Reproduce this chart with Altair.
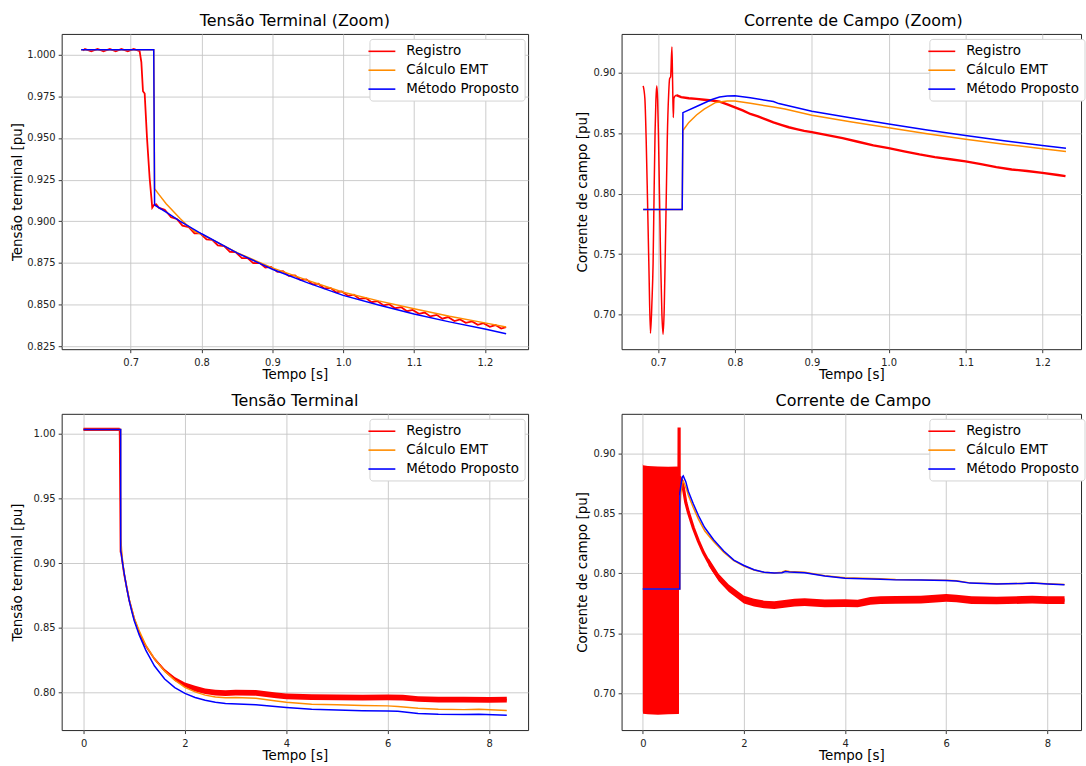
import altair as alt
import pandas as pd

FONT = "DejaVu Sans"
SERIES = ["Registro", "Cálculo EMT", "Método Proposto"]
COLORS = ["#ff0000", "#ff8c00", "#0000ff"]

# ---------------- Top-left: Tensão Terminal (Zoom) ----------------
tl_reg_t = [0.6326, 0.6354, 0.6443, 0.6532, 0.6616, 0.6705, 0.6789, 0.6869, 0.6958, 0.7042,
            0.7126, 0.715, 0.7173, 0.7197, 0.723, 0.7267, 0.7304, 0.7328, 0.736,
            0.740, 0.748, 0.757, 0.765, 0.773, 0.782, 0.790, 0.798, 0.807, 0.815,
            0.823, 0.832, 0.840, 0.848, 0.857, 0.865, 0.873, 0.882, 0.890, 0.898,
            0.907, 0.915, 0.923, 0.932, 0.940, 0.948, 0.957, 0.965, 0.973, 0.982,
            0.990, 0.998, 1.007, 1.015, 1.023, 1.032, 1.040, 1.048, 1.057, 1.065,
            1.073, 1.082, 1.090, 1.098, 1.107, 1.115, 1.123, 1.132, 1.140, 1.148,
            1.157, 1.165, 1.173, 1.182, 1.190, 1.198, 1.207, 1.215, 1.223, 1.230]
tl_reg_v = [1.0025, 1.0035, 1.0021, 1.0035, 1.0021, 1.0035, 1.0021, 1.0035, 1.0021, 1.0035,
            1.0021, 0.9956, 0.9781, 0.9767, 0.950, 0.926, 0.9082, 0.9098, 0.9102,
            0.9080, 0.9069, 0.9024, 0.9014, 0.8974, 0.8965, 0.8927, 0.8927, 0.8891, 0.8889,
            0.8855, 0.8851, 0.8817, 0.8815, 0.8779, 0.8779, 0.8749, 0.8750, 0.8722, 0.8726,
            0.8696, 0.8700, 0.8672, 0.8675, 0.8647, 0.8651, 0.8621, 0.8625, 0.8597, 0.8600,
            0.8573, 0.8579, 0.8552, 0.8559, 0.8534, 0.8539, 0.8514, 0.8521, 0.8495, 0.8502,
            0.8478, 0.8484, 0.8460, 0.8468, 0.8444, 0.8452, 0.8429, 0.8438, 0.8415, 0.8425,
            0.8401, 0.8411, 0.8390, 0.8399, 0.8378, 0.8388, 0.8366, 0.8377, 0.8356, 0.8365]
tl_emt_t = [0.63, 0.7325, 0.7337, 0.74, 0.75, 0.76, 0.77, 0.78, 0.79, 0.80, 0.85, 0.90,
            0.95, 1.00, 1.05, 1.10, 1.15, 1.20, 1.23]
tl_emt_v = [1.003, 1.003, 0.9195, 0.916, 0.9105, 0.906, 0.9015, 0.8975, 0.894, 0.8922,
            0.8812, 0.872, 0.8645, 0.8574, 0.8522, 0.8475, 0.843, 0.839, 0.8365]
tl_prop_t = [0.63, 0.7325, 0.7337, 0.75, 0.77, 0.80, 0.85, 0.90, 0.95, 1.00, 1.05, 1.10,
             1.15, 1.20, 1.23]
tl_prop_v = [1.003, 1.003, 0.9098, 0.9055, 0.900, 0.8925, 0.881, 0.8712, 0.863, 0.8555,
             0.8497, 0.8443, 0.8396, 0.8353, 0.8325]

# ---------------- Top-right: Corrente de Campo (Zoom) ----------------
tr_osc_t = [0.6806, 0.6828, 0.6845, 0.6862, 0.6882, 0.6901, 0.692, 0.6935, 0.6948, 0.6961,
            0.6972, 0.6983, 0.6994, 0.7004, 0.7018, 0.7034, 0.705, 0.7065, 0.708, 0.7095,
            0.711, 0.712, 0.7138, 0.715, 0.7163, 0.718, 0.7189, 0.7198, 0.7206, 0.7215, 0.7237]
tr_osc_v = [0.8893, 0.8789, 0.845, 0.7967, 0.735, 0.6844, 0.710, 0.7419, 0.800, 0.8515,
            0.878, 0.8893, 0.878, 0.8515, 0.800, 0.7419, 0.700, 0.6836, 0.705, 0.7556,
            0.810, 0.846, 0.883, 0.8953, 0.8967, 0.9214, 0.8926, 0.863, 0.879, 0.8803, 0.8816]
tr_reg_t = [0.7237, 0.73, 0.74, 0.75, 0.76, 0.77, 0.78, 0.79, 0.80, 0.81, 0.82, 0.83, 0.84,
            0.85, 0.86, 0.87, 0.88, 0.89, 0.90, 0.92, 0.94, 0.96, 0.98, 1.00, 1.02, 1.04,
            1.06, 1.08, 1.10, 1.12, 1.14, 1.16, 1.18, 1.20, 1.22, 1.23]
tr_reg_v = [0.8816, 0.8800, 0.8790, 0.8785, 0.8778, 0.8772, 0.8762, 0.8740, 0.8715, 0.8690,
            0.8660, 0.8640, 0.8615, 0.8590, 0.8570, 0.8550, 0.8535, 0.8520, 0.8510, 0.8485,
            0.8460, 0.8430, 0.8400, 0.8377, 0.8350, 0.8325, 0.8303, 0.8285, 0.8268, 0.8245,
            0.8220, 0.8200, 0.8188, 0.8172, 0.8155, 0.8145]
tr_emt_t = [0.6806, 0.7314, 0.7323, 0.74, 0.75, 0.76, 0.775, 0.79, 0.80, 0.82, 0.85, 0.865,
            0.90, 0.95, 1.00, 1.05, 1.10, 1.15, 1.20, 1.2306]
tr_emt_v = [0.7868, 0.7868, 0.8523, 0.859, 0.8652, 0.870, 0.8756, 0.8768, 0.8767, 0.8748,
            0.8718, 0.8701, 0.865, 0.8595, 0.8546, 0.8496, 0.8451, 0.841, 0.8372, 0.835]
tr_prop_t = [0.6806, 0.7314, 0.7323, 0.75, 0.77, 0.78, 0.79, 0.80, 0.82, 0.85, 0.857, 0.90,
             0.95, 1.00, 1.05, 1.10, 1.15, 1.20, 1.2306]
tr_prop_v = [0.7868, 0.7868, 0.8671, 0.8722, 0.878, 0.8801, 0.8808, 0.8811, 0.8795, 0.8763,
             0.8746, 0.8683, 0.8628, 0.8577, 0.8527, 0.8481, 0.8438, 0.8399, 0.8377]

# ---------------- Bottom-left: Tensão Terminal ----------------
bl_reg_t = [0.0, 0.712, 0.715, 0.7173, 0.723, 0.7304, 0.736, 0.75, 0.80, 0.90, 1.00, 1.10,
            1.20, 1.23, 1.40, 1.60, 1.80, 2.00, 2.20, 2.40, 2.60, 2.80, 3.00, 3.40, 3.80,
            4.00, 4.50, 5.00, 5.50, 6.00, 6.30, 6.60, 7.00, 7.50, 8.00, 8.35]
bl_reg_v = [1.0033, 1.0033, 0.9956, 0.978, 0.950, 0.9082, 0.910, 0.9055, 0.8915, 0.8715,
            0.8568, 0.8458, 0.8379, 0.836, 0.826, 0.817, 0.8105, 0.806, 0.803, 0.801, 0.800,
            0.7995, 0.800, 0.7998, 0.7978, 0.797, 0.7965, 0.7962, 0.796, 0.7963, 0.796,
            0.795, 0.7945, 0.7945, 0.7943, 0.7945]
bl_band_seg = [0, 0, 1, 1, 1, 1, 1, 1, 1, 1, 1, 1, 1, 1, 1, 1, 1, 1, 1, 1, 1, 1, 1, 1]
bl_band_t = [0.0, 0.712, 1.40, 1.60, 1.80, 2.00, 2.20, 2.40, 2.60, 2.80, 3.00, 3.40,
             3.80, 4.00, 4.50, 5.00, 5.50, 6.00, 6.30, 6.60, 7.00, 7.50, 8.00, 8.35]
bl_band_lo = [1.0021, 1.0021, 0.8252, 0.8158, 0.809, 0.8042, 0.8008, 0.7988, 0.7978, 0.7973,
              0.7978, 0.7976, 0.7956, 0.7948, 0.7943, 0.794, 0.7938, 0.7941, 0.7938, 0.7928,
              0.7923, 0.7923, 0.7921, 0.7923]
bl_band_hi = [1.0045, 1.0045, 0.8268, 0.8182, 0.812, 0.8078, 0.8052, 0.8032, 0.8022, 0.8017,
              0.8022, 0.802, 0.8, 0.7992, 0.7987, 0.7984, 0.7982, 0.7985, 0.7982, 0.7972,
              0.7967, 0.7967, 0.7965, 0.7967]
bl_emt_t = [0.0, 0.7325, 0.7337, 0.75, 0.77, 0.80, 0.85, 0.90, 0.95, 1.00, 1.10, 1.20, 1.23,
            1.40, 1.60, 1.80, 2.00, 2.20, 2.40, 2.60, 2.80, 3.00, 3.40, 3.80, 4.00, 4.50,
            5.00, 5.50, 6.00, 6.20, 6.60, 7.00, 7.50, 7.80, 8.35]
bl_emt_v = [1.0031, 1.0031, 0.9195, 0.9105, 0.9015, 0.8922, 0.8812, 0.872, 0.8645, 0.8574,
            0.8475, 0.839, 0.8365, 0.826, 0.8165, 0.8095, 0.804, 0.8005, 0.798, 0.7965,
            0.796, 0.7962, 0.7955, 0.7935, 0.7925, 0.791, 0.7905, 0.790, 0.7897, 0.7893,
            0.7878, 0.787, 0.7868, 0.787, 0.7862]
bl_prop_t = [0.0, 0.7325, 0.7337, 0.75, 0.77, 0.80, 0.85, 0.90, 0.95, 1.00, 1.10, 1.20, 1.23,
             1.40, 1.60, 1.80, 2.00, 2.20, 2.40, 2.60, 2.80, 3.40, 4.00, 4.50, 5.00, 5.50,
             6.00, 6.20, 6.60, 7.00, 7.50, 7.80, 8.35]
bl_prop_v = [1.0031, 1.0031, 0.9098, 0.9055, 0.900, 0.8925, 0.881, 0.8712, 0.863, 0.8555,
             0.8443, 0.8353, 0.8325, 0.8205, 0.8105, 0.8038, 0.7993, 0.7962, 0.794, 0.7925,
             0.7915, 0.7905, 0.7885, 0.787, 0.7865, 0.786, 0.7858, 0.7855, 0.7838, 0.7832,
             0.783, 0.7832, 0.7824]

# ---------------- Bottom-right: Corrente de Campo ----------------
br_band_seg = [0, 0, 0, 0, 0, 0, 0,
               1, 1, 1, 1, 1, 1, 1, 1, 1, 1, 1, 1, 1, 1, 1, 1, 1, 1, 1, 1, 1, 1, 1, 1, 1]
br_band_t = [0.0, 0.005, 0.10, 0.30, 0.50, 0.70, 0.716,
             1.30, 1.50, 1.70, 2.00, 2.20, 2.40, 2.60, 2.80, 3.00, 3.20, 3.60, 4.00, 4.25,
             4.50, 4.70, 5.00, 5.50, 6.00, 6.20, 6.50, 7.00, 7.50, 7.70, 8.00, 8.34]
br_band_lo = [0.6855, 0.6830, 0.6825, 0.6822, 0.6825, 0.6828, 0.6830,
              0.8063, 0.7933, 0.7843, 0.7748, 0.7723, 0.7708, 0.7703, 0.7713, 0.7723, 0.7728,
              0.7718, 0.7720, 0.7716, 0.7738, 0.7744, 0.7746, 0.7748, 0.7763, 0.7758, 0.7744,
              0.7741, 0.7746, 0.7748, 0.7744, 0.7744]
br_band_hi = [0.8912, 0.8900, 0.8893, 0.8890, 0.8888, 0.8890, 0.8890,
              0.8127, 0.7997, 0.7907, 0.7812, 0.7787, 0.7772, 0.7767, 0.7777, 0.7787, 0.7792,
              0.7782, 0.7784, 0.7780, 0.7802, 0.7808, 0.7810, 0.7812, 0.7827, 0.7822, 0.7808,
              0.7805, 0.7810, 0.7812, 0.7808, 0.7808]
br_reg_t = [0.716, 0.718, 0.7195, 0.7215, 0.73, 0.75, 0.77, 0.80, 0.85, 0.90, 1.00, 1.10,
            1.20, 1.30, 1.40, 1.50, 1.60, 1.70, 1.80, 1.90, 2.00, 2.20, 2.40, 2.60, 2.80,
            3.00, 3.20, 3.60, 4.00, 4.25, 4.50, 4.70, 5.00, 5.50, 6.00, 6.20, 6.50, 7.00,
            7.50, 7.70, 8.00, 8.34]
br_reg_v = [0.889, 0.9215, 0.865, 0.880, 0.880, 0.8785, 0.8772, 0.8715, 0.859, 0.851, 0.8377,
            0.8268, 0.8172, 0.8095, 0.8025, 0.7965, 0.7915, 0.7875, 0.7835, 0.7805, 0.778,
            0.7755, 0.774, 0.7735, 0.7745, 0.7755, 0.776, 0.775, 0.7752, 0.7748, 0.777,
            0.7776, 0.7778, 0.778, 0.7795, 0.779, 0.7776, 0.7773, 0.7778, 0.778, 0.7776, 0.7776]
br_emt_t = [0.0, 0.732, 0.7325, 0.75, 0.775, 0.80, 0.82, 0.865, 0.90, 1.00, 1.10, 1.20, 1.23,
            1.40, 1.60, 1.80, 2.00, 2.20, 2.40, 2.60, 2.75, 2.82, 2.90, 3.20, 3.60, 4.00,
            4.70, 5.00, 5.50, 6.00, 6.20, 6.47, 7.00, 7.50, 7.70, 8.00, 8.34]
br_emt_v = [0.7869, 0.7869, 0.8523, 0.8652, 0.8756, 0.8767, 0.8748, 0.8701, 0.865, 0.8546,
            0.8451, 0.8372, 0.835, 0.8265, 0.8175, 0.8105, 0.806, 0.8028, 0.8008, 0.8003,
            0.8008, 0.802, 0.8015, 0.8008, 0.798, 0.7962, 0.7955, 0.7948, 0.7945, 0.7942,
            0.7937, 0.792, 0.7912, 0.7915, 0.792, 0.7912, 0.7906]
br_prop_t = [0.0, 0.732, 0.7325, 0.75, 0.78, 0.80, 0.85, 0.90, 1.00, 1.10, 1.20, 1.23,
             1.40, 1.60, 1.80, 2.00, 2.20, 2.40, 2.60, 2.75, 2.82, 2.90, 3.20, 3.60, 4.00,
             4.70, 5.00, 5.50, 6.00, 6.20, 6.47, 7.00, 7.50, 7.70, 8.00, 8.34]
br_prop_v = [0.7869, 0.7869, 0.8671, 0.8722, 0.8801, 0.8811, 0.8763, 0.8683, 0.8577, 0.8481,
             0.8399, 0.8377, 0.828, 0.8185, 0.811, 0.8065, 0.803, 0.8008, 0.8002, 0.8005,
             0.8015, 0.801, 0.8005, 0.7978, 0.7959, 0.7951, 0.7945, 0.7943, 0.794, 0.7935,
             0.7918, 0.791, 0.7915, 0.7918, 0.791, 0.7904]

# ---------------- tick labels / titles ----------------
ticks_zoom_x = [0.7, 0.8, 0.9, 1.0, 1.1, 1.2]
ticks_full_x = [0, 2, 4, 6, 8]
ticks_tl_y = [0.825, 0.850, 0.875, 0.900, 0.925, 0.950, 0.975, 1.000]
ticks_bl_y = [0.80, 0.85, 0.90, 0.95, 1.00]
ticks_field_y = [0.70, 0.75, 0.80, 0.85, 0.90]


def df(t, v, name):
    return pd.DataFrame({"t": t, "v": v, "s": name})


def panel(title, ytitle, xdom, ydom, xticks, xfmt, yticks, yfmt, w, h, ext,
          reds, emt, prop, band=None, title_dx=0):
    xs = alt.Scale(domain=xdom, nice=False, zero=False)
    ys = alt.Scale(domain=ydom, nice=False, zero=False)
    xa = alt.Axis(title="Tempo [s]", values=xticks, format=xfmt, labelPadding=5, titlePadding=0)
    ya = alt.Axis(title=ytitle, values=yticks, format=yfmt, minExtent=ext, maxExtent=ext,
                  titlePadding=4)
    cs = alt.Scale(domain=SERIES, range=COLORS)
    leg = alt.Legend(title=None, orient="none", legendX=309.5, legendY=5)
    layers = []
    if band is not None:
        bdf = pd.DataFrame({"t": band[0], "lo": band[1], "hi": band[2], "seg": band[3]})
        layers.append(alt.Chart(bdf).mark_area(color="#ff0000", clip=True).encode(
            x=alt.X("t:Q", scale=xs, axis=xa),
            y=alt.Y("lo:Q", scale=ys, axis=ya),
            y2="hi:Q",
            detail="seg:N"))
    for (d, wdt, interp) in reds + [(emt, 1.5, "linear"), (prop, 1.5, "linear")]:
        layers.append(alt.Chart(d).mark_line(strokeWidth=wdt, clip=True, interpolate=interp).encode(
            x=alt.X("t:Q", scale=xs, axis=xa),
            y=alt.Y("v:Q", scale=ys, axis=ya),
            color=alt.Color("s:N", scale=cs, legend=leg),
            order=alt.Order("t:Q")))
    return alt.layer(*layers).properties(
        width=w, height=h, title=alt.Title(title, dx=title_dx))


tl = panel("Tensão Terminal (Zoom)", "Tensão terminal [pu]", [0.6025, 1.261], [0.8232, 1.0125],
           ticks_zoom_x, ".1f", ticks_tl_y, ".3f", 469, 317, 33,
           [(df(tl_reg_t, tl_reg_v, "Registro"), 1.8, "linear")],
           df(tl_emt_t, tl_emt_v, "Cálculo EMT"), df(tl_prop_t, tl_prop_v, "Método Proposto"))

tr = panel("Corrente de Campo (Zoom)", "Corrente de campo [pu]", [0.6525, 1.2502], [0.6712, 0.9323],
           ticks_zoom_x, ".1f", ticks_field_y, ".2f", 462, 317, 28,
           [(df(tr_osc_t, tr_osc_v, "Registro"), 1.5, "monotone"),
            (df(tr_reg_t, tr_reg_v, "Registro"), 2.4, "linear")],
           df(tr_emt_t, tr_emt_v, "Cálculo EMT"), df(tr_prop_t, tr_prop_v, "Método Proposto"),
           title_dx=2)

bl = panel("Tensão Terminal", "Tensão terminal [pu]", [-0.432, 8.77], [0.771, 1.0153],
           ticks_full_x, "d", ticks_bl_y, ".2f", 469, 318, 33,
           [(df(bl_reg_t, bl_reg_v, "Registro"), 1.8, "linear")],
           df(bl_emt_t, bl_emt_v, "Cálculo EMT"), df(bl_prop_t, bl_prop_v, "Método Proposto"),
           band=(bl_band_t, bl_band_lo, bl_band_hi, bl_band_seg))

br = panel("Corrente de Campo", "Corrente de campo [pu]", [-0.42, 8.666], [0.6694, 0.9328],
           ticks_full_x, "d", ticks_field_y, ".2f", 462, 318, 28,
           [(df(br_reg_t, br_reg_v, "Registro"), 3.2, "linear")],
           df(br_emt_t, br_emt_v, "Cálculo EMT"), df(br_prop_t, br_prop_v, "Método Proposto"),
           band=(br_band_t, br_band_lo, br_band_hi, br_band_seg), title_dx=2)

top = alt.hconcat(tl, tr, spacing=46).resolve_scale(color="independent").resolve_legend(color="independent")
bottom = alt.hconcat(bl, br, spacing=46).resolve_scale(color="independent").resolve_legend(color="independent")

chart = alt.vconcat(top, bottom, spacing=10).resolve_scale(color="independent").resolve_legend(
    color="independent"
).properties(
    padding={"left": 10, "top": 10, "right": 0, "bottom": 0}
).configure(
    font=FONT
).configure_view(
    stroke="#262626", strokeWidth=1
).configure_axis(
    domain=False, grid=True, gridColor="#c6c6c6", gridWidth=0.9,
    tickColor="#262626", tickSize=3.5, tickWidth=0.9,
    labelFont=FONT, labelFontSize=10, labelColor="#222222", labelPadding=3,
    titleFont=FONT, titleFontSize=13.5, titleFontWeight="normal", titleColor="#000000"
).configure_title(
    font=FONT, fontSize=16, fontWeight="normal", color="#000000", offset=5, anchor="middle"
).configure_legend(
    symbolType="M-2.08,0L2.08,0", symbolSize=169, symbolStrokeWidth=1.6,
    labelFont=FONT, labelFontSize=13.5, labelColor="#000000", labelOffset=17,
    padding=5, rowPadding=5, fillColor="#ffffff", strokeColor="#d4d4d4", cornerRadius=3
)

chart.save("out.html", embed_options={"renderer": "svg", "actions": False})
